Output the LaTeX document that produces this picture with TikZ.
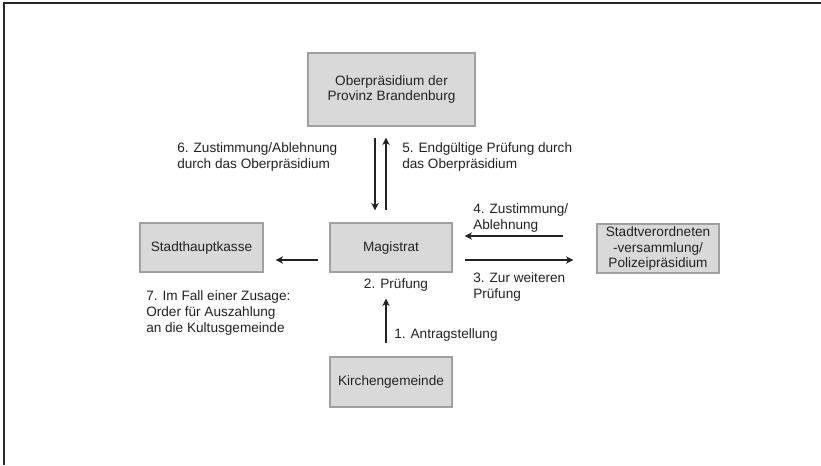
\documentclass[tikz,border=0pt]{standalone}
\usepackage{fontspec}
\setmainfont{Liberation Sans}
\usetikzlibrary{arrows.meta,calc}
\definecolor{boxfill}{RGB}{217,217,217}
\definecolor{boxline}{RGB}{160,160,160}
\definecolor{ink}{RGB}{35,35,35}
\definecolor{framec}{RGB}{40,40,40}
\begin{document}
\begin{tikzpicture}[x=0.75pt,y=-0.75pt,
  box/.style={draw=boxline,fill=boxfill,line width=0.9pt,inner sep=0pt,
    align=center,text=ink,font=\fontsize{10.2}{11.6}\selectfont},
  lbl/.style={inner sep=0pt,align=left,anchor=base west,text=ink,
    font=\fontsize{10.2}{12}\selectfont},
  arr/.style={draw=ink,line width=1.1pt,-{Stealth[length=5.5pt,width=5.5pt,inset=1.5pt]}}]
\useasboundingbox (0,0) rectangle (821,465);
\fill[white] (0,0) rectangle (821,465);
% frame (left and top lines only)
\draw[framec,line width=1.5pt] (4,465) -- (4,3) -- (821,3);
% boxes
\node[box,minimum width=167*0.75pt,minimum height=73*0.75pt] (ober) at (391.5,89.5) {Oberpräsidium der\\Provinz Brandenburg};
\node[box,minimum width=123*0.75pt,minimum height=49*0.75pt] (kasse) at (201.5,247.5) {Stadthauptkasse};
\node[box,minimum width=122*0.75pt,minimum height=49*0.75pt] (mag) at (391,247.5) {Magistrat};
\node[box,minimum width=122*0.75pt,minimum height=49*0.75pt] (stadt) at (658,248.5) {Stadtverordneten\\-versammlung/\\Polizeipräsidium};
\node[box,minimum width=122*0.75pt,minimum height=50*0.75pt] (kirche) at (391,382) {Kirchengemeinde};
% arrow anchor coordinates
\coordinate (p6) at ($(mag.north)+(-16,0)$);
\coordinate (p5) at ($(mag.north)+(-5,0)$);
\coordinate (p7) at ($(mag.west)+(0,12.5)$);
\coordinate (p4) at ($(mag.east)+(0,-11.5)$);
\coordinate (p3) at ($(mag.east)+(0,12.5)$);
\coordinate (p1) at ($(kirche.north)+(-5,0)$);
% arrows
\draw[arr,shorten <=8.25pt,shorten >=9pt] (p6 |- ober.south) -- (p6);
\draw[arr,shorten <=9pt,shorten >=8.25pt] (p5) -- (p5 |- ober.south);
\draw[arr,shorten <=8.25pt,shorten >=9pt] (p7) -- (p7 -| kasse.east);
\draw[arr,shorten <=24.75pt,shorten >=9pt] (p4 -| stadt.west) -- (p4);
\draw[arr,shorten <=9pt,shorten >=17.25pt] (p3) -- (p3 -| stadt.west);
\draw[arr,shorten <=9.75pt,shorten >=19.5pt] (p1) -- (p1 |- mag.south);
% labels (base anchor = baseline of last line)
\node[lbl] (l6) at (177,168) {6. Zustimmung/Ablehnung\\durch das Oberpräsidium};
\node[lbl] (l5) at (402,168) {5. Endgültige Prüfung durch\\das Oberpräsidium};
\node[lbl] (l4) at (473,229) {4. Zustimmung/\\Ablehnung};
\node[lbl] (l3) at (473,298.5) {3. Zur weiteren\\Prüfung};
\node[lbl,anchor=base] (l2) at (396,288.5) {2. Prüfung};
\node[lbl] (l7) at (146,332.5) {7. Im Fall einer Zusage:\\Order für Auszahlung\\an die Kultusgemeinde};
\node[lbl] (l1) at (394,338.5) {1. Antragstellung};
\end{tikzpicture}
\end{document}
